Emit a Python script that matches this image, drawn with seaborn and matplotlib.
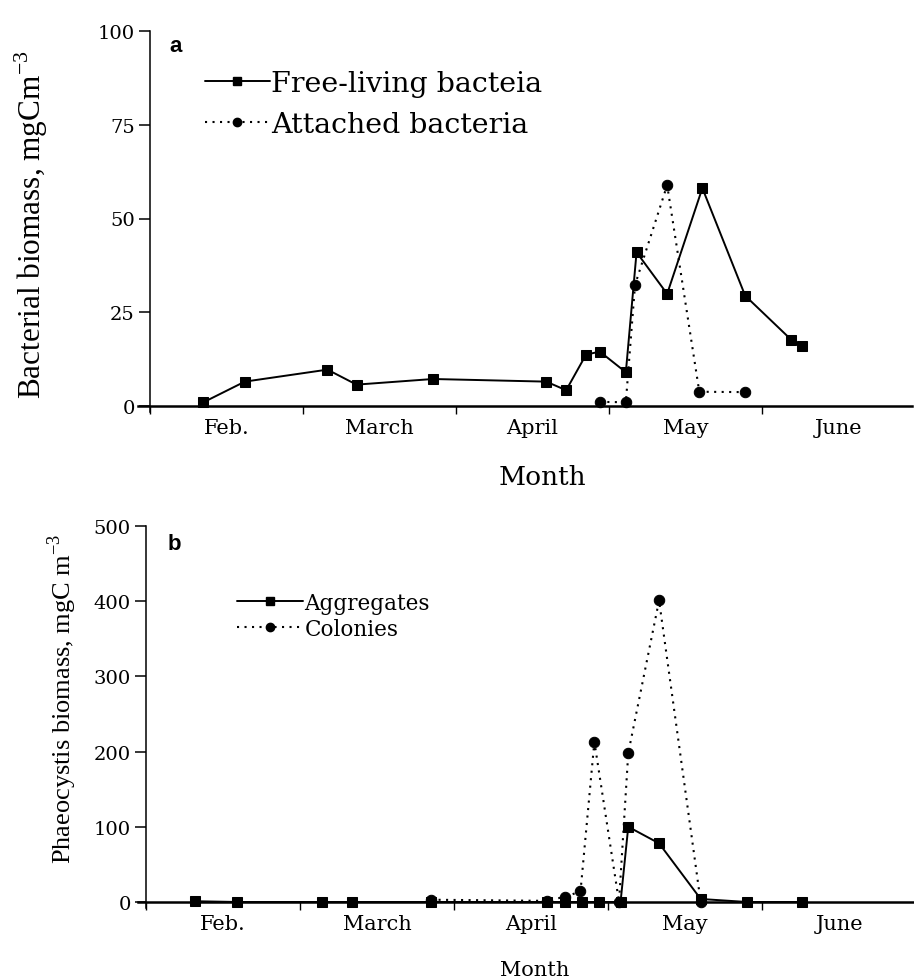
import matplotlib
matplotlib.use("Agg")
import matplotlib.pyplot as plt
import seaborn as sns
from matplotlib.lines import Line2D

# Sampling dates in months counted from 1 February (Feb = 0..1, March = 1..2, ...)
free_x = [0.35, 0.62, 1.16, 1.35, 1.85, 2.59, 2.72, 2.85, 2.94, 3.11, 3.18, 3.38, 3.61, 3.89, 4.19, 4.26]
free_y = [1.0, 6.5, 9.7, 5.7, 7.2, 6.5, 4.2, 13.7, 14.5, 9.0, 41.0, 29.9, 58.1, 29.4, 17.7, 16.1]
attached_x = [2.94, 3.11, 3.17, 3.38, 3.59, 3.89]
attached_y = [1.1, 1.0, 32.3, 58.9, 3.8, 3.7]

aggregates_x = [0.32, 0.59, 1.14, 1.34, 1.85, 2.60, 2.72, 2.83, 2.94, 3.08, 3.13, 3.33, 3.60, 3.90, 4.26]
aggregates_y = [1, 0, 0, 0, 0, 0, 0, 0, 0, 0, 100, 78, 4, 0, 0]
colonies_x = [1.85, 2.60, 2.72, 2.82, 2.91, 3.07, 3.13, 3.33, 3.60]
colonies_y = [3, 1.5, 7, 14, 213, 0, 198, 401, 0]

month_labels = ["Feb.", "March", "April", "May", "June"]
ticks_a = [0, 25, 50, 75, 100]
ticks_b = [0, 100, 200, 300, 400, 500]

sns.set_theme(style="ticks")
plt.rcParams["font.family"] = ["DejaVu Serif"]
plt.rcParams["text.color"] = "black"
plt.rcParams["axes.labelcolor"] = "black"
plt.rcParams["xtick.color"] = "black"
plt.rcParams["ytick.color"] = "black"
plt.rcParams["mathtext.fontset"] = "custom"
plt.rcParams["mathtext.rm"] = "Liberation Serif"

W, H = 914, 979
fig = plt.figure(figsize=(W / 100, H / 100), dpi=100)


def axes_px(left, top, right, bottom):
    return fig.add_axes([left / W, 1 - bottom / H, (right - left) / W, (bottom - top) / H])


DOT = (0, (1, 2.6))


def style_axes(ax, xlim, ylim, yticks, ytick_size, xtick_size):
    ax.set_xlim(*xlim)
    ax.set_ylim(*ylim)
    for side in ("top", "right"):
        ax.spines[side].set_visible(False)
    ax.spines["left"].set_position(("data", 0))
    ax.spines["bottom"].set_position(("data", 0))
    ax.spines["left"].set_linewidth(1.1)
    ax.spines["bottom"].set_linewidth(1.8)
    ax.spines["left"].set_color("black")
    ax.spines["bottom"].set_color("black")
    ax.set_yticks(yticks)
    ax.set_yticklabels([str(t) for t in yticks])
    ax.tick_params(axis="y", direction="out", length=8, width=1.1, pad=3,
                   labelsize=ytick_size, colors="black")
    ax.set_xticks([0, 1, 2, 3, 4])
    ax.set_xticklabels([])
    ax.set_xticks([0.5, 1.5, 2.5, 3.5, 4.5], minor=True)
    ax.set_xticklabels(month_labels, minor=True)
    ax.tick_params(axis="x", which="major", direction="out", length=6, width=1.0,
                   colors="black")
    ax.tick_params(axis="x", which="minor", length=0, pad=9, labelsize=xtick_size,
                   colors="black")
    ax.set_facecolor("white")


# ---------------- panel a: bacterial biomass ----------------
ax_a = axes_px(138, 32, 912, 413)
sns.lineplot(x=free_x, y=free_y, ax=ax_a, color="black", linewidth=1.4,
             marker="s", markersize=7, markeredgecolor="black",
             sort=False, estimator=None, clip_on=False)
sns.lineplot(x=attached_x, y=attached_y, ax=ax_a, color="black", linewidth=1.5,
             linestyle=DOT, marker="o", markersize=7.5, markeredgecolor="black",
             sort=False, estimator=None, clip_on=False)
style_axes(ax_a, (-0.078, 4.98), (-1.6, 100), ticks_a, 14, 15)
ax_a.set_ylabel(r"Bacterial biomass, mgCm$^{-3}$", fontsize=22.5,
                family="Liberation Serif", va="center")
ax_a.yaxis.set_label_coords(-0.138, 0.495)
ax_a.set_xlabel("Month", fontsize=19, va="center")
ax_a.xaxis.set_label_coords(0.522, -0.168)
ax_a.text(0.048, 0.962, "a", transform=ax_a.transAxes, fontsize=16,
          fontweight="bold", family="Liberation Sans", ha="center", va="center")

handles_a = [
    Line2D([], [], color="black", lw=1.4, marker="s", markersize=6),
    Line2D([], [], color="black", lw=1.5, linestyle=DOT, marker="o", markersize=6),
]
ax_a.legend(handles_a, ["Free-living bacteia", "Attached bacteria"],
            loc="upper left", bbox_to_anchor=(0.086, 0.898), frameon=False,
            fontsize=20.5, handlelength=2.3, handletextpad=0.05, borderpad=0,
            borderaxespad=0, labelspacing=0.5)

# ---------------- panel b: Phaeocystis biomass ----------------
ax_b = axes_px(138.3, 527, 913.3, 909)
sns.lineplot(x=aggregates_x, y=aggregates_y, ax=ax_b, color="black", linewidth=1.4,
             marker="s", markersize=7, markeredgecolor="black",
             sort=False, estimator=None, clip_on=False)
sns.lineplot(x=colonies_x, y=colonies_y, ax=ax_b, color="black", linewidth=1.5,
             linestyle=DOT, marker="o", markersize=7.5, markeredgecolor="black",
             sort=False, estimator=None, clip_on=False)
style_axes(ax_b, (-0.05, 4.98), (-8, 500), ticks_b, 14, 15)
ax_b.set_ylabel(r"Phaeocystis biomass, mgC m$^{-3}$", fontsize=19,
                family="Liberation Serif", va="center")
ax_b.yaxis.set_label_coords(-0.098, 0.55)
ax_b.set_xlabel("Month", fontsize=15, va="center")
ax_b.xaxis.set_label_coords(0.512, -0.16)
ax_b.text(0.046, 0.953, "b", transform=ax_b.transAxes, fontsize=16,
          fontweight="bold", family="Liberation Sans", ha="center", va="center")

handles_b = [
    Line2D([], [], color="black", lw=1.4, marker="s", markersize=6),
    Line2D([], [], color="black", lw=1.5, linestyle=DOT, marker="o", markersize=6),
]
ax_b.legend(handles_b, ["Aggregates", "Colonies"],
            loc="upper left", bbox_to_anchor=(0.127, 0.828), frameon=False,
            fontsize=15.5, handlelength=3.1, handletextpad=0.05, borderpad=0,
            borderaxespad=0, labelspacing=0.2)

fig.savefig("out.png", dpi=100, facecolor="white")
